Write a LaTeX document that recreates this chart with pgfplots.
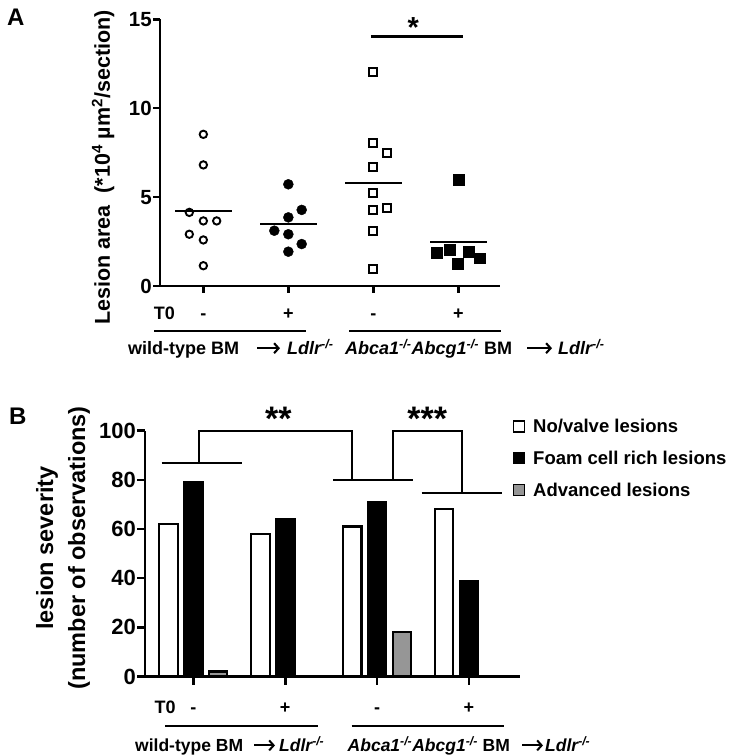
\documentclass[border=0pt]{standalone}
\usepackage{pgfplots}
\pgfplotsset{compat=1.18}
\usetikzlibrary{arrows.meta}
\usepackage{fontspec}
\setmainfont{Liberation Sans}
\definecolor{advgray}{RGB}{150,150,150}
\newcommand{\ko}{\textsuperscript{\itshape -/-}}
\begin{document}
\begin{tikzpicture}
\path[use as bounding box] (0pt,0pt) rectangle (729pt,756pt);

% ---------------- Panel A ----------------
\begin{axis}[
  at={(160pt,470pt)}, anchor=south west, scale only axis,
  width=340pt, height=266.7pt,
  xmin=-0.51, xmax=3.49, ymin=0, ymax=15,
  axis lines=left, axis line style={-, line width=2.5pt},
  xtick={0,1,2,3}, xticklabels={,,,},
  ytick={0,5,10,15},
  tick align=outside, major tick length=7pt,
  major tick style={line width=2.5pt, black},
  /pgf/number format/assume math mode=true,
  tick label style={font=\bfseries\fontsize{20.5}{20.5}\selectfont},
  yticklabel style={inner sep=1pt},
  clip=false,
]
\addplot[only marks, black, mark=o, mark size=3.7pt, mark options={line width=1.9pt, fill=white}]
  coordinates {(0,8.53) (0,6.81) (-0.165,4.14) (0,3.66) (0.157,3.66) (-0.165,2.91) (0,2.59) (0,1.14)};
\addplot[only marks, black, mark=*, mark size=5pt]
  coordinates {(1,5.72) (1.157,4.28) (1,3.86) (0.835,3.11) (1,2.91) (1.157,2.36) (1,1.93)};
\addplot[only marks, black, mark=square, mark size=4pt, mark options={line width=1.9pt, fill=white}]
  coordinates {(2,12.02) (2,8.06) (2.157,7.46) (2,6.68) (2,5.25) (2,4.28) (2.157,4.37) (2,3.11) (2,0.96)};
\addplot[only marks, black, mark=square*, mark size=5.4pt]
  coordinates {(3,5.96) (2.745,1.88) (2.902,2.03) (3.118,1.93) (2.99,1.24) (3.255,1.56)};
% means
\addplot[black, line width=2.4pt] coordinates {(-0.333,4.22) (0.333,4.22)};
\addplot[black, line width=2.4pt] coordinates {(0.667,3.47) (1.333,3.47)};
\addplot[black, line width=2.4pt] coordinates {(1.667,5.79) (2.333,5.79)};
\addplot[black, line width=2.4pt] coordinates {(2.667,2.46) (3.333,2.46)};
% significance
\addplot[black, line width=2.4pt] coordinates {(1.97,14.03) (3.06,14.03)};
\node[anchor=base, inner sep=0pt, font=\bfseries\fontsize{29}{29}\selectfont] at (axis cs:2.47,14.0) {*};
\end{axis}

% ---------------- Panel B ----------------
\begin{axis}[
  at={(145pt,79.5pt)}, anchor=south west, scale only axis,
  width=375pt, height=245.8pt,
  xmin=-0.526, xmax=3.555, ymin=0, ymax=100,
  axis lines=left, axis line style={-, line width=2.6pt},
  xtick={0,1,2,3}, xticklabels={,,,},
  ytick={0,20,40,60,80,100},
  tick align=outside, major tick length=8pt,
  major tick style={line width=2.6pt, black},
  /pgf/number format/assume math mode=true,
  tick label style={font=\bfseries\fontsize{22}{22}\selectfont},
  yticklabel style={inner sep=1pt},
  clip=false,
]
\addplot[ybar, bar width=0.2, bar shift=0pt, fill=white, draw=black, line width=2.2pt]
  coordinates {(-0.27,62) (0.73,58) (1.73,61) (2.73,68)};
\addplot[ybar, bar width=0.2, bar shift=0pt, fill=black, draw=black, line width=2.2pt]
  coordinates {(0,79) (1,64) (2,71) (3,39)};
\addplot[ybar, bar width=0.2, bar shift=0pt, fill=advgray, draw=black, line width=2.2pt]
  coordinates {(0.27,2) (2.27,18)};
% brackets
\addplot[black, line width=2.2pt] coordinates {(-0.344,86.7) (0.527,86.7)};
\addplot[black, line width=2.2pt] coordinates {(0.065,86.7) (0.065,100) (1.724,100) (1.724,79.9)};
\addplot[black, line width=2.2pt] coordinates {(1.523,79.9) (2.394,79.9)};
\addplot[black, line width=2.2pt] coordinates {(2.176,79.9) (2.176,100) (2.92,100) (2.92,74.5)};
\addplot[black, line width=2.2pt] coordinates {(2.485,74.5) (3.356,74.5)};
\node[anchor=base, inner sep=0pt, font=\bfseries\fontsize{34}{34}\selectfont] at (axis cs:0.925,100) {**};
\node[anchor=base, inner sep=0pt, font=\bfseries\fontsize{34}{34}\selectfont] at (axis cs:2.545,100) {***};
\end{axis}

\begin{scope}[x=1pt, y=1pt]
% panel letters
\node[anchor=base west, inner sep=0pt, font=\bfseries\fontsize{24}{24}\selectfont] at (7,730.4) {A};
\node[anchor=base west, inner sep=0pt, font=\bfseries\fontsize{24}{24}\selectfont] at (9,331.4) {B};

% y labels
\node[rotate=90, font=\bfseries\fontsize{21.5}{24}\selectfont] at (103,588.5)
  {Lesion area\ \ (*10\textsuperscript{4} µm\textsuperscript{2}/section)};
\node[rotate=90, align=center, font=\bfseries\fontsize{23.5}{32}\selectfont] at (63,208)
  {lesion severity\\(number of observations)};

% Panel A bottom annotations
\begin{scope}[every node/.style={inner sep=0pt, font=\bfseries\fontsize{18}{18}\selectfont}]
\node[anchor=base] at (164.5,436.6) {T0};
\node[anchor=base] at (203.3,436.6) {-};
\node[anchor=base] at (288.3,436.6) {+};
\node[anchor=base] at (373.3,436.6) {-};
\node[anchor=base] at (458.3,436.6) {+};
\node[anchor=base west] at (128,401.6) {wild-type BM};
\node[anchor=base west] at (287,401.6) {\itshape Ldlr\ko};
\node[anchor=base west] at (345,401.6) {\textit{Abca1}\ko\textit{Abcg1}\ko\ BM};
\node[anchor=base west] at (558,401.6) {\itshape Ldlr\ko};
\end{scope}
\draw[line width=2.1pt, -{Straight Barb[length=4.5pt, width=10pt, line width=2.1pt]}] (257,407.8) -- (280,407.8);
\draw[line width=2.1pt, -{Straight Barb[length=4.5pt, width=10pt, line width=2.1pt]}] (527,407.8) -- (552,407.8);
\draw[line width=2.3pt] (154,425) -- (306,425);
\draw[line width=2.3pt] (349,425) -- (501,425);

% Panel B bottom annotations
\begin{scope}[every node/.style={inner sep=0pt, font=\bfseries\fontsize{18}{18}\selectfont}]
\node[anchor=base] at (165.2,42.6) {T0};
\node[anchor=base] at (193.3,42.6) {-};
\node[anchor=base] at (285.2,42.6) {+};
\node[anchor=base] at (377.1,42.6) {-};
\node[anchor=base] at (469,42.6) {+};
\end{scope}
\begin{scope}[every node/.style={inner sep=0pt, font=\bfseries\fontsize{17.5}{17.5}\selectfont}]
\node[anchor=base west] at (135,4.6) {wild-type BM};
\node[anchor=base west] at (279,4.6) {\itshape Ldlr\ko};
\node[anchor=base west] at (347.5,4.6) {\textit{Abca1}\ko\textit{Abcg1}\ko\ BM};
\node[anchor=base west] at (545,4.6) {\itshape Ldlr\ko};
\end{scope}
\draw[line width=2pt, -{Straight Barb[length=4.5pt, width=10pt, line width=2pt]}] (254,10.6) -- (275,10.6);
\draw[line width=2pt, -{Straight Barb[length=4.5pt, width=10pt, line width=2pt]}] (522,10.6) -- (543,10.6);
\draw[line width=2.3pt] (165,30) -- (317.5,30);
\draw[line width=2.3pt] (351.5,30) -- (504,30);

% legend
\draw[line width=1.8pt, fill=white] (513.5,324) rectangle (524.5,335);
\draw[line width=1.8pt, fill=black] (513.5,292.5) rectangle (524.5,303.5);
\draw[line width=1.8pt, fill=advgray] (513.5,260.5) rectangle (524.5,271.5);
\begin{scope}[every node/.style={inner sep=0pt, anchor=base west, font=\bfseries\fontsize{18.5}{18.5}\selectfont}]
\node at (533,323.1) {No/valve lesions};
\node at (533,291.6) {Foam cell rich lesions};
\node at (533,259.6) {Advanced lesions};
\end{scope}
\end{scope}
\end{tikzpicture}
\end{document}
